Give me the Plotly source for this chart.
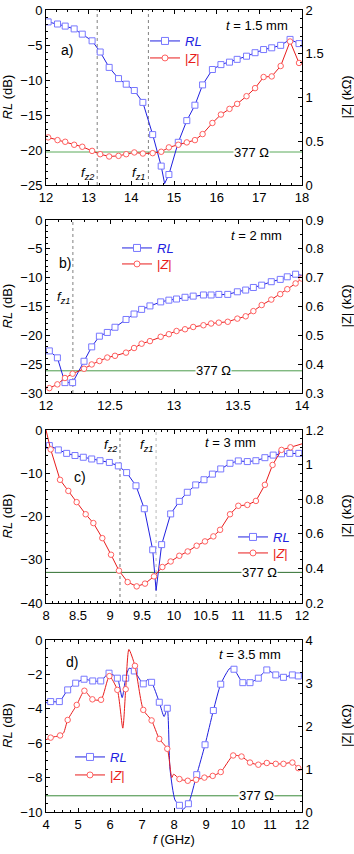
import numpy as np
import plotly.graph_objects as go

FONT = "Arial, Liberation Sans, sans-serif"

# ---------------- data ----------------
# Panel a) t = 1.5 mm
a_rl_f = [12.05, 12.27, 12.45, 12.66, 12.85, 13.08, 13.27, 13.48, 13.70, 13.88, 14.07, 14.27, 14.50, 14.70, 14.88,
          15.10, 15.30, 15.49, 15.67, 15.90, 16.10, 16.30, 16.48, 16.70, 16.90, 17.10, 17.29, 17.50, 17.72, 17.93]
a_rl = [-1.7, -2.0, -2.3, -2.7, -3.45, -4.4, -6.0, -8.2, -9.8, -10.6, -11.5, -13.2, -17.8, -22.3, -23.5,
        -18.9, -15.8, -13.6, -10.7, -8.5, -7.8, -7.45, -7.05, -6.6, -6.1, -5.65, -5.4, -5.05, -4.2, -4.8]
a_rl_xf = [14.78]
a_rl_x = [-24.8]
a_z_f = a_rl_f
a_z = [0.544, 0.513, 0.494, 0.46, 0.437, 0.39, 0.352, 0.326, 0.333, 0.352, 0.372, 0.36, 0.364, 0.38, 0.43,
       0.46, 0.487, 0.513, 0.582, 0.709, 0.805, 0.87, 0.927, 1.015, 1.107, 1.234, 1.241, 1.36, 1.64, 1.395]
a_z_xf = []
a_z_x = []
a_fz = [13.2, 14.4]

# Panel b) t = 2 mm
b_rl_f = [12.026, 12.089, 12.148, 12.208, 12.297, 12.357, 12.417, 12.479, 12.539, 12.625, 12.688, 12.747, 12.812,
          12.896, 12.96, 13.02, 13.086, 13.15, 13.23, 13.29, 13.35, 13.42, 13.495, 13.56, 13.62, 13.685, 13.76,
          13.83, 13.885, 13.95]
b_rl = [-22.7, -23.9, -28.2, -28.2, -24.5, -22.0, -20.15, -19.5, -18.6, -17.25, -16.3, -15.5, -14.9,
        -14.2, -13.9, -13.7, -13.4, -13.2, -13.0, -13.0, -12.9, -12.9, -12.45, -12.15, -11.7, -11.3, -10.7,
        -10.3, -9.85, -9.4]
b_rl_xf = [14.0]
b_rl_x = [-9.6]
b_z_f = b_rl_f + [13.997]
b_z = [0.317, 0.33, 0.352, 0.367, 0.384, 0.399, 0.411, 0.423, 0.429, 0.44, 0.456, 0.471, 0.48,
       0.495, 0.504, 0.515, 0.521, 0.529, 0.535, 0.541, 0.544, 0.547, 0.558, 0.566, 0.584, 0.605, 0.624,
       0.643, 0.66, 0.68, 0.697]
b_z_xf = []
b_z_x = []
b_fz = [12.21]

# Panel c) t = 3 mm
c_rl_f = [8.052, 8.193, 8.323, 8.453, 8.583, 8.714, 8.844, 8.99, 9.13, 9.26, 9.406, 9.536, 9.667, 9.807, 9.948,
          10.083, 10.208, 10.339, 10.469, 10.60, 10.73, 10.875, 11.005, 11.146, 11.28, 11.42, 11.55, 11.68,
          11.81, 11.95]
c_rl = [-3.6, -4.6, -5.4, -5.9, -6.3, -6.7, -7.1, -7.5, -8.3, -9.85, -12.9, -18.2, -27.7, -26.5, -19.4,
        -16.5, -14.4, -12.7, -11.5, -10.2, -9.0, -7.7, -7.15, -7.3, -7.1, -6.4, -5.8, -5.5, -5.4, -5.4]
c_rl_xf = [9.72]
c_rl_x = [-37.1]
c_z_f = [8.073, 8.219, 8.349, 8.479, 8.62, 8.74, 8.88, 9.016, 9.14, 9.276, 9.417, 9.547, 9.688, 9.818, 9.948,
         10.083, 10.214, 10.354, 10.484, 10.615, 10.72, 10.875, 11.005, 11.146, 11.28, 11.42, 11.54, 11.68, 11.82]
c_z = [1.088, 0.912, 0.848, 0.783, 0.713, 0.662, 0.575, 0.479, 0.387, 0.321, 0.296, 0.312, 0.354, 0.408, 0.44,
       0.473, 0.498, 0.531, 0.556, 0.585, 0.623, 0.713, 0.762, 0.767, 0.79, 0.883, 0.998, 1.085, 1.10]
c_z_xf = [8.0, 12.0]
c_z_x = [1.2, 1.12]
c_fz = [9.156, 9.72]

# Panel d) t = 3.5 mm
d_rl_f = [4.146, 4.417, 4.677, 4.927, 5.19, 5.46, 5.71, 5.97, 6.23, 6.49, 6.76, 7.04, 7.30, 7.54, 7.79,
          8.17, 8.45, 8.71, 8.97, 9.23, 9.46, 9.875, 10.15, 10.375, 10.635, 10.90, 11.18, 11.42, 11.70, 11.885]
d_rl = [-3.58, -3.58, -2.9, -2.51, -2.28, -2.38, -2.38, -1.93, -2.22, -2.22, -1.8, -2.55, -2.46, -3.62, -3.97,
        -9.61, -9.52, -7.83, -6.09, -4.1, -2.57, -1.70, -2.48, -2.48, -2.22, -1.74, -2.03, -2.17, -2.03, -2.09]
d_rl_xf = [4.0, 6.38, 6.6, 7.18, 7.69, 7.875, 8.03, 8.27, 9.75, 12.0]
d_rl_x = [-3.65, -3.35, -1.64, -2.3, -4.45, -7.5, -9.3, -9.85, -1.64, -2.1]
d_z_f = [4.146, 4.44, 4.677, 4.96, 5.2, 5.45, 5.72, 5.98, 6.23, 6.49, 6.78, 7.04, 7.30, 7.54, 7.79,
         8.17, 8.43, 8.69, 8.95, 9.21, 9.46, 9.85, 10.11, 10.375, 10.635, 10.90, 11.18, 11.42, 11.70, 11.885]
d_z = [1.73, 1.78, 2.14, 2.49, 2.82, 2.62, 2.61, 3.16, 2.84, 2.855, 3.40, 2.375, 2.13, 1.70, 1.47,
       0.766, 0.727, 0.75, 0.80, 0.84, 0.93, 1.315, 1.29, 1.15, 1.10, 1.14, 1.12, 1.12, 1.15, 1.02]
d_z_xf = [4.0, 4.55, 6.40, 6.59, 7.93, 7.99, 12.0]
d_z_x = [1.68, 1.84, 1.95, 3.78, 0.80, 0.88, 0.98]
d_fz = []

Z0 = 0.377  # free-space impedance, kOhm

# axis ranges / ticks per panel
x_ranges = [[12, 18], [12, 14], [8, 12], [4, 12]]
x_dticks = [1, 0.5, 0.5, 1]
x_minor = [0.25, 0.1, 0.1, 0.25]
yl_ranges = [[-25, 0], [-30, 0], [-40, 0], [-10, 0]]
yl_dticks = [5, 5, 10, 2]
yl_minor = [1, 1, 2, 0.5]
yr_ranges = [[0, 2], [0.3, 0.9], [0.2, 1.2], [0, 4]]
yr_dticks = [0.5, 0.1, 0.2, 1]
yr_minor = [0.1, 0.05, 0.05, 0.25]
thick_labels = ["<i>t</i> = 1.5 mm", "<i>t</i> = 2 mm", "<i>t</i> = 3 mm", "<i>t</i> = 3.5 mm"]
panel_labels = ["a)", "b)", "c)", "d)"]

# ---------------- layout geometry (pixels) ----------------
W, H = 354, 854
L, R, T, B = 46, 302, 10, 812
panel_px = [(10, 185), (220, 393), (430, 603), (640, 812)]


def px(xp, yp):
    return (xp - L) / (R - L), (B - yp) / (B - T)


BLUE = "#2020e0"
BLUE_M = "#7878ff"
RED = "#e81c1c"
RED_M = "#ff6060"
greens = ["#5aaa5a", "#4c9c4c", "#2f6f2f", "#3a8a3a"]

fig = go.Figure()


def merged(fm, vm, fx, vx):
    f = np.array(list(fm) + list(fx), dtype=float)
    v = np.array(list(vm) + list(vx), dtype=float)
    o = np.argsort(f)
    return f[o], v[o]


data = [
    (a_rl_f, a_rl, a_rl_xf, a_rl_x, a_z_f, a_z, a_z_xf, a_z_x, a_fz),
    (b_rl_f, b_rl, b_rl_xf, b_rl_x, b_z_f, b_z, b_z_xf, b_z_x, b_fz),
    (c_rl_f, c_rl, c_rl_xf, c_rl_x, c_z_f, c_z, c_z_xf, c_z_x, c_fz),
    (d_rl_f, d_rl, d_rl_xf, d_rl_x, d_z_f, d_z, d_z_xf, d_z_x, d_fz),
]

# legend entry positions: (left x, RL centre y, |Z| centre y)
legend_pos = [(145, 41, 58), (117, 248, 264), (233, 537, 553), (70, 757, 775)]
label377_x = [16.82, 13.31, 11.34, 10.58]
fz_names = [["<i>f</i><sub><i>z2</i></sub>", "<i>f</i><sub><i>z1</i></sub>"],
            ["<i>f</i><sub><i>z1</i></sub>"],
            ["<i>f</i><sub><i>z2</i></sub>", "<i>f</i><sub><i>z1</i></sub>"],
            []]
fz_label_y = [173, 298, 445, 0]
fz_colors = [["#808080", "#808080"], ["#808080"], ["#707070", "#b8b8b8"], []]
thick_pos = [(290, 25), (284, 235), (258, 442), (283, 654)]
plabel_pos = [(67, 50), (65, 263), (80, 477), (72, 662)]

shapes = []
annotations = []
layout_axes = {}
LEG_OFF = 15  # legend item centre below legend top

for i, (rf, rv, rxf, rxv, zf, zv, zxf, zxv, fzs) in enumerate(data):
    n = i + 1
    xa = "x" if n == 1 else f"x{n}"
    yl = "y" if n == 1 else f"y{2 * n - 1}"
    yr = f"y{2 * n}"
    leg_rl = "legend" if n == 1 else f"legend{2 * n - 1}"
    leg_z = f"legend{2 * n}"
    spline = dict(shape="spline", smoothing=0.6) if n == 4 else dict(shape="linear")

    # |Z| on right axis
    lf, lv = merged(zf, zv, zxf, zxv)
    fig.add_trace(go.Scatter(x=lf, y=lv, mode="lines", xaxis=xa, yaxis=yr, showlegend=False,
                             line=dict(color=RED, width=1, **spline), hoverinfo="skip"))
    fig.add_trace(go.Scatter(x=zf, y=zv, mode="markers", xaxis=xa, yaxis=yr, showlegend=False,
                             marker=dict(symbol="circle", size=5.5, color="white",
                                         line=dict(color=RED_M, width=1))))
    # RL on left axis
    lf, lv = merged(rf, rv, rxf, rxv)
    fig.add_trace(go.Scatter(x=lf, y=lv, mode="lines", xaxis=xa, yaxis=yl, showlegend=False,
                             line=dict(color=BLUE, width=1, **spline), hoverinfo="skip"))
    fig.add_trace(go.Scatter(x=rf, y=rv, mode="markers", xaxis=xa, yaxis=yl, showlegend=False,
                             marker=dict(symbol="square", size=6, color="white",
                                         line=dict(color=BLUE_M, width=1))))
    # legend entries
    fig.add_trace(go.Scatter(x=[None], y=[None], mode="lines+markers", xaxis=xa, yaxis=yl,
                             name=f"<span style='color:{BLUE}'><i>RL</i></span>", legend=leg_rl,
                             line=dict(color=BLUE, width=1),
                             marker=dict(symbol="square", size=7, color="white", line=dict(color=BLUE_M, width=1))))
    fig.add_trace(go.Scatter(x=[None], y=[None], mode="lines+markers", xaxis=xa, yaxis=yl,
                             name=f"<span style='color:{RED}'>|<i>Z</i>|</span>", legend=leg_z,
                             line=dict(color=RED, width=1),
                             marker=dict(symbol="circle", size=6, color="white", line=dict(color=RED_M, width=1))))

    top, bot = panel_px[i]
    dom = [(B - bot) / (B - T), (B - top) / (B - T)]
    tickfont = dict(family=FONT, size=13, color="black")
    axis_common = dict(showgrid=False, zeroline=False, showline=True, linecolor="black", linewidth=1,
                       ticks="inside", ticklen=4, tickwidth=1, tickcolor="black", tickfont=tickfont,
                       automargin=False)
    xkey = "xaxis" if n == 1 else f"xaxis{n}"
    ylkey = "yaxis" if n == 1 else f"yaxis{2 * n - 1}"
    yrkey = f"yaxis{2 * n}"
    xax = dict(axis_common, domain=[0, 1], anchor=yl, range=x_ranges[i], dtick=x_dticks[i],
               tick0=x_ranges[i][0], mirror="ticks",
               minor=dict(dtick=x_minor[i], ticks="inside", ticklen=2, tickcolor="black"))
    if n == 4:
        xax["title"] = dict(text="<i>f</i> (GHz)", font=dict(family=FONT, size=13), standoff=4)
    layout_axes[xkey] = xax
    layout_axes[ylkey] = dict(axis_common, domain=dom, anchor=xa, range=yl_ranges[i], dtick=yl_dticks[i],
                              tick0=0, side="left",
                              minor=dict(dtick=yl_minor[i], ticks="inside", ticklen=2, tickcolor="black"))
    layout_axes[yrkey] = dict(axis_common, anchor=xa, overlaying=yl, side="right", range=yr_ranges[i],
                              dtick=yr_dticks[i], tick0=0,
                              minor=dict(dtick=yr_minor[i], ticks="inside", ticklen=2, tickcolor="black"))

    lxp, ry, zy = legend_pos[i]
    for key, cy in ((leg_rl, ry), (leg_z, zy)):
        lx, ly = px(lxp, cy - LEG_OFF)
        layout_axes[key] = dict(x=lx, y=ly, xanchor="left", yanchor="top", bgcolor="rgba(0,0,0,0)",
                                font=dict(family=FONT, size=13), tracegroupgap=0)

    # axis titles (fixed positions)
    annotations.append(dict(x=px(7, 0)[0], y=0.5, xref="paper", yref=f"{yl} domain", text="<i>RL</i> (dB)",
                            textangle=-90, showarrow=False, xanchor="center", yanchor="middle",
                            font=dict(family=FONT, size=13, color="black")))
    annotations.append(dict(x=px(346, 0)[0], y=0.5, xref="paper", yref=f"{yl} domain", text="|Z| (kΩ)",
                            textangle=-90, showarrow=False, xanchor="center", yanchor="middle",
                            font=dict(family=FONT, size=13, color="black")))

    # 377 Ohm line and label
    shapes.append(dict(type="line", xref=f"{xa} domain", yref=yr, x0=0, x1=1, y0=Z0, y1=Z0,
                       line=dict(color=greens[i], width=1), layer="below"))
    annotations.append(dict(x=label377_x[i], y=Z0, xref=xa, yref=yr, text="377 Ω", showarrow=False,
                            bgcolor="white", borderpad=0, yanchor="middle",
                            font=dict(family=FONT, size=13, color="black")))
    # f_z markers
    for j, fz in enumerate(fzs):
        shapes.append(dict(type="line", xref=xa, yref=f"{yl} domain", x0=fz, x1=fz, y0=0, y1=1,
                           line=dict(color=fz_colors[i][j], width=1, dash="dot"), layer="below"))
        _, yy = px(0, fz_label_y[i])
        annotations.append(dict(x=fz, y=yy, xref=xa, yref="paper", text=fz_names[i][j], showarrow=False,
                                xanchor="right", yanchor="middle", xshift=-1,
                                font=dict(family=FONT, size=13, color="black")))
    # panel text
    tx, ty = px(*thick_pos[i])
    annotations.append(dict(x=tx, y=ty, xref="paper", yref="paper", text=thick_labels[i], showarrow=False,
                            xanchor="right", yanchor="middle", font=dict(family=FONT, size=13, color="black")))
    plx, ply = px(*plabel_pos[i])
    annotations.append(dict(x=plx, y=ply, xref="paper", yref="paper", text=panel_labels[i], showarrow=False,
                            xanchor="center", yanchor="middle", font=dict(family=FONT, size=14, color="black")))

fig.update_layout(
    width=W, height=H,
    margin=dict(l=L, r=W - R, t=T, b=H - B, autoexpand=False),
    paper_bgcolor="white", plot_bgcolor="white",
    font=dict(family=FONT, size=13, color="black"),
    shapes=shapes, annotations=annotations,
    **layout_axes,
)

fig.write_html("out.html", config={"displayModeBar": False},
               post_script="document.body.style.margin='0';document.body.style.padding='0';")
